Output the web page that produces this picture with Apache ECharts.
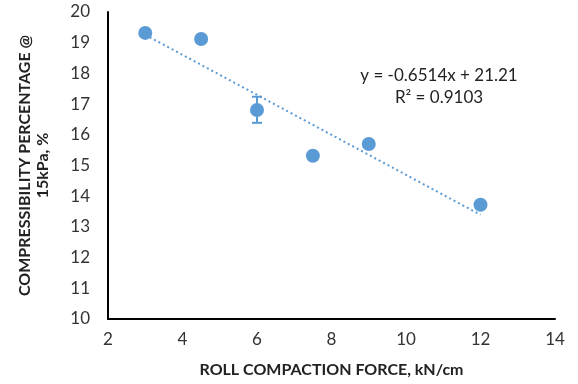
<!DOCTYPE html>
<html><head><meta charset="utf-8">
<script src="https://cdn.jsdelivr.net/npm/echarts@6/dist/echarts.min.js"></script>
<style>html,body{margin:0;padding:0;background:#fff}#c{width:578px;height:384px}</style>
</head><body><div id="c"></div>
<script>
const forceX = [3, 4.5, 6, 7.5, 9, 12];
const compress = [19.32, 19.12, 16.81, 15.32, 15.70, 13.72];
const errLow = [null, null, 16.39, null, null, null];
const errHigh = [null, null, 17.24, null, null, null];
const slope = -0.6514, intercept = 21.21;
const trendX = [3, 12];
const eqText = 'y = -0.6514x + 21.21';
const r2Text = 'R² = 0.9103';

const font = 'Lato, "Open Sans", sans-serif';
const blue = '#5B9BD5';
const chart = echarts.init(document.getElementById('c'));
const pts = forceX.map((x, i) => [x, compress[i]]);
const errs = forceX.map((x, i) => errLow[i] == null ? null : [x, errLow[i], errHigh[i]]).filter(d => d);
const trend = trendX.map(x => [x, slope * x + intercept]);
chart.setOption({
  animation: false,
  grid: {left: 108, right: 23, top: 12, bottom: 65},
  xAxis: {
    type: 'value', min: 2, max: 14, interval: 2,
    axisLine: {show: true, lineStyle: {color: '#000', width: 2}},
    axisTick: {show: false}, splitLine: {show: false},
    axisLabel: {color: '#333', fontSize: 17, fontFamily: font, margin: 12},
    name: 'ROLL COMPACTION FORCE, kN/cm', nameLocation: 'middle', nameGap: 43,
    nameTextStyle: {color: '#222', fontSize: 16, fontWeight: 'bold', fontFamily: font}
  },
  yAxis: {
    type: 'value', min: 10, max: 20, interval: 1,
    axisLine: {show: true, lineStyle: {color: '#000', width: 2}},
    axisTick: {show: false}, splitLine: {show: false},
    axisLabel: {color: '#333', fontSize: 17, fontFamily: font, margin: 18},
    name: 'COMPRESSIBILITY PERCENTAGE @\n15kPa, %', nameLocation: 'middle', nameGap: 56,
    nameTextStyle: {color: '#222', fontSize: 16, fontWeight: 'bold', fontFamily: font, lineHeight: 18}
  },
  series: [
    {type: 'line', data: trend, symbol: 'none', lineStyle: {color: blue, width: 2, type: [2, 3]}, z: 2},
    {type: 'custom', data: errs, z: 3,
      renderItem: function (params, api) {
        const top = api.coord([api.value(0), api.value(2)]);
        const bot = api.coord([api.value(0), api.value(1)]);
        const st = {stroke: blue, lineWidth: 2};
        return {type: 'group', children: [
          {type: 'line', shape: {x1: top[0], y1: top[1], x2: bot[0], y2: bot[1]}, style: st},
          {type: 'line', shape: {x1: top[0] - 5, y1: top[1], x2: top[0] + 5, y2: top[1]}, style: st},
          {type: 'line', shape: {x1: bot[0] - 5, y1: bot[1], x2: bot[0] + 5, y2: bot[1]}, style: st}
        ]};
      }},
    {type: 'scatter', data: pts, symbolSize: 14, itemStyle: {color: blue, opacity: 1}, z: 4}
  ],
  graphic: [
    {type: 'text', x: 439, y: 87, style: {text: eqText + '\n' + r2Text, align: 'center', verticalAlign: 'middle', font: '17px ' + font, fill: '#222', lineHeight: 22}}
  ]
});
</script></body></html>
